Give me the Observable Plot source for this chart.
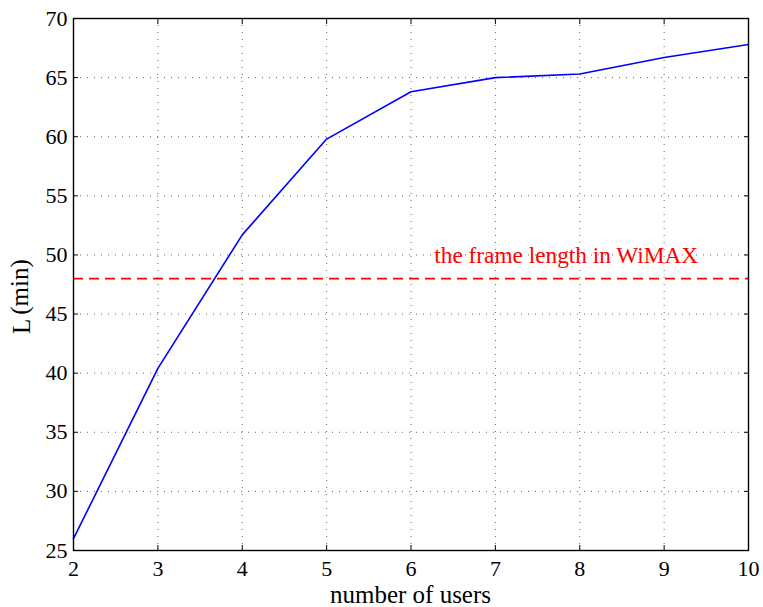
<!DOCTYPE html>
<html><head><meta charset="utf-8">
<script src="https://cdn.jsdelivr.net/npm/d3@7"></script>
<script src="https://cdn.jsdelivr.net/npm/@observablehq/plot@0.6"></script>
<style>body{margin:0;background:#fff;} #chart svg{display:block;}</style>
</head><body><div id="chart"></div>
<script>
const users = [2, 3, 4, 5, 6, 7, 8, 9, 10];
const latency = [26.0, 40.4, 51.7, 59.8, 63.8, 65.0, 65.3, 66.7, 67.8];
const frameLength = [48];
const xTicks = [2, 3, 4, 5, 6, 7, 8, 9, 10];
const yTicks = [25, 30, 35, 40, 45, 50, 55, 60, 65, 70];
const annotationText = ["the frame length in WiMAX"];
const annotationX = [7.84];
const annotationY = [49.3];
const xLabel = "number of users";
const yLabelMain = "L";
const yLabelSup = "(min)";

const data = users.map((u, i) => ({u, v: latency[i]}));
const ann = annotationText.map((t, i) => ({t, x: annotationX[i], y: annotationY[i]}));

const FONT = "'Liberation Serif', 'Times New Roman', serif";
const W = 763, H = 607;
const plot = Plot.plot({
  width: W, height: H,
  marginLeft: 73, marginRight: 15, marginTop: 18, marginBottom: 57,
  style: {fontFamily: FONT, background: "#fff", color: "#000"},
  x: {domain: [2, 10], ticks: xTicks},
  y: {domain: [25, 70], ticks: yTicks},
  marks: [
    Plot.ruleX(xTicks.slice(1, -1), {stroke: "#666", strokeWidth: 1, strokeDasharray: "1,6"}),
    Plot.ruleY(yTicks.slice(1, -1), {stroke: "#666", strokeWidth: 1, strokeDasharray: "1,6"}),
    Plot.axisX({ticks: xTicks, anchor: "bottom", tickSize: -5, text: null, label: null}),
    Plot.axisX({ticks: xTicks, anchor: "top", tickSize: -5, text: null, label: null}),
    Plot.axisY({ticks: yTicks, anchor: "left", tickSize: -5, text: null, label: null}),
    Plot.axisY({ticks: yTicks, anchor: "right", tickSize: -5, text: null, label: null}),
    Plot.text(xTicks, {x: d => d, frameAnchor: "bottom", text: d => String(d), textAnchor: "middle", lineAnchor: "bottom", dy: 25, fontSize: 22, fontFamily: FONT, fill: "#000"}),
    Plot.text(yTicks, {y: d => d, frameAnchor: "left", text: d => String(d), textAnchor: "end", lineAnchor: "middle", dx: -6, fontSize: 22, fontFamily: FONT, fill: "#000"}),
    Plot.ruleY(frameLength, {stroke: "#ff0000", strokeWidth: 1.6, strokeDasharray: "10,6"}),
    Plot.line(data, {x: "u", y: "v", stroke: "#0000ff", strokeWidth: 1.6}),
    Plot.text(ann, {x: "x", y: "y", text: "t", fill: "#ff0000", fontSize: 23.3, fontFamily: FONT, textAnchor: "middle", lineAnchor: "bottom"}),
    Plot.frame({stroke: "#000", strokeWidth: 1.4})
  ]
});
document.getElementById("chart").appendChild(plot);

const svg = d3.select(plot);
svg.append("text")
  .attr("x", 73 + (W - 73 - 15) / 2).attr("y", 603)
  .attr("text-anchor", "middle")
  .attr("font-size", 25)
  .attr("font-family", FONT)
  .attr("fill", "#000")
  .text(xLabel);
const yl = svg.append("text")
  .attr("transform", "translate(30,334) rotate(-90)")
  .attr("text-anchor", "start")
  .attr("font-size", 25)
  .attr("font-family", FONT)
  .attr("fill", "#000");
yl.append("tspan").text(yLabelMain);
yl.append("tspan").attr("dx", 4).attr("dy", -2).attr("font-size", 25).text(yLabelSup);
</script>
</body></html>
